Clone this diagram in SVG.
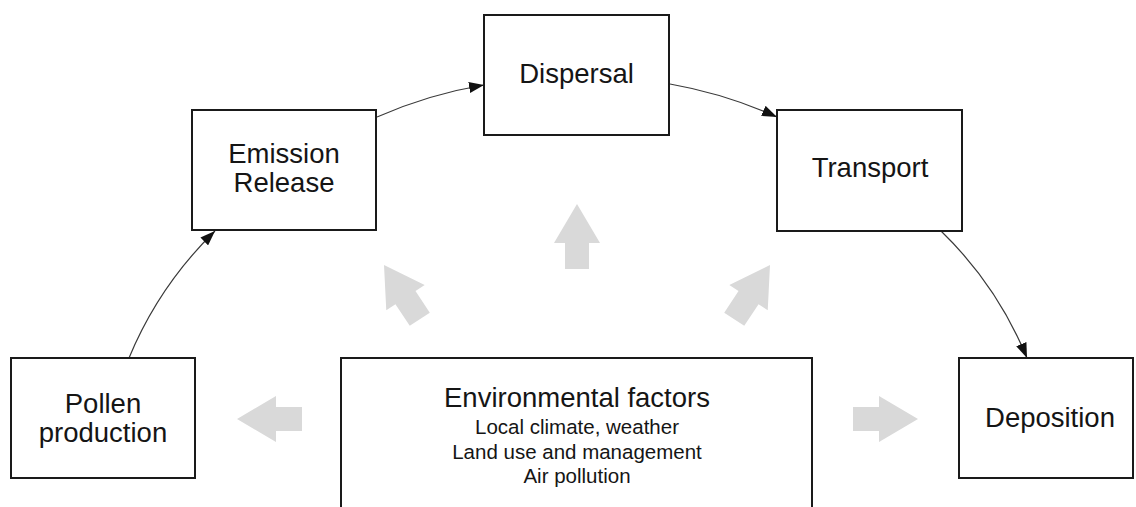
<svg xmlns="http://www.w3.org/2000/svg" width="1136" height="507" viewBox="0 0 1136 507">
<style>
.box{fill:#fff;stroke:#1a1a1a;stroke-width:2}
.t{font-family:"Liberation Sans",Arial,sans-serif;font-size:27.5px;fill:#151515;text-anchor:middle}
.s{font-family:"Liberation Sans",Arial,sans-serif;font-size:20.5px;fill:#151515;text-anchor:middle}
.c{fill:none;stroke:#3a3a3a;stroke-width:1.2;marker-end:url(#ah)}
.g{fill:#d9d9d9}
</style>
<defs>
<marker id="ah" markerUnits="userSpaceOnUse" markerWidth="15" markerHeight="11" refX="15" refY="5.5" orient="auto">
<path d="M0,0 L15,5.5 L0,11 z" fill="#111"/>
</marker>
<path id="ga" d="M0,0 L23,39 L12,39 L12,65 L-12,65 L-12,39 L-23,39 z"/>
</defs>
<rect width="1136" height="507" fill="#fff"/>
<g id="bigarrows" class="g">
<use href="#ga" transform="translate(577,204)"/>
<use href="#ga" transform="translate(384,265) rotate(-33.4)"/>
<use href="#ga" transform="translate(770,265) rotate(33.4)"/>
<use href="#ga" transform="translate(237,419) rotate(-90)"/>
<use href="#ga" transform="translate(918,419) rotate(90)"/>
</g>
<g id="connectors">
<path class="c" d="M129,358 Q158.8,285.9 215,231"/>
<path class="c" d="M377,117 Q428.5,94.3 484,85"/>
<path class="c" d="M670,84 Q725.5,93.8 777,117"/>
<path class="c" d="M941,231 Q997.3,285.5 1027,358"/>
</g>
<g id="pollen">
<rect class="box" x="11" y="358" width="184" height="120"/>
<text class="t" x="103" y="413">Pollen</text>
<text class="t" x="103" y="442">production</text>
</g>
<g id="emission">
<rect class="box" x="192" y="110" width="184" height="120"/>
<text class="t" x="284" y="163">Emission</text>
<text class="t" x="284" y="192">Release</text>
</g>
<g id="dispersal">
<rect class="box" x="484" y="15" width="185" height="120"/>
<text class="t" x="576.5" y="83">Dispersal</text>
</g>
<g id="transport">
<rect class="box" x="777" y="110" width="185" height="121"/>
<text class="t" x="870" y="177">Transport</text>
</g>
<g id="deposition">
<rect class="box" x="959" y="358" width="174" height="120"/>
<text class="t" x="1050" y="427">Deposition</text>
</g>
<g id="environment">
<rect class="box" x="341" y="358" width="471" height="160"/>
<text class="t" x="577" y="407">Environmental factors</text>
<text class="s" x="577" y="434">Local climate, weather</text>
<text class="s" x="577" y="459">Land use and management</text>
<text class="s" x="577" y="483">Air pollution</text>
</g>
</svg>
